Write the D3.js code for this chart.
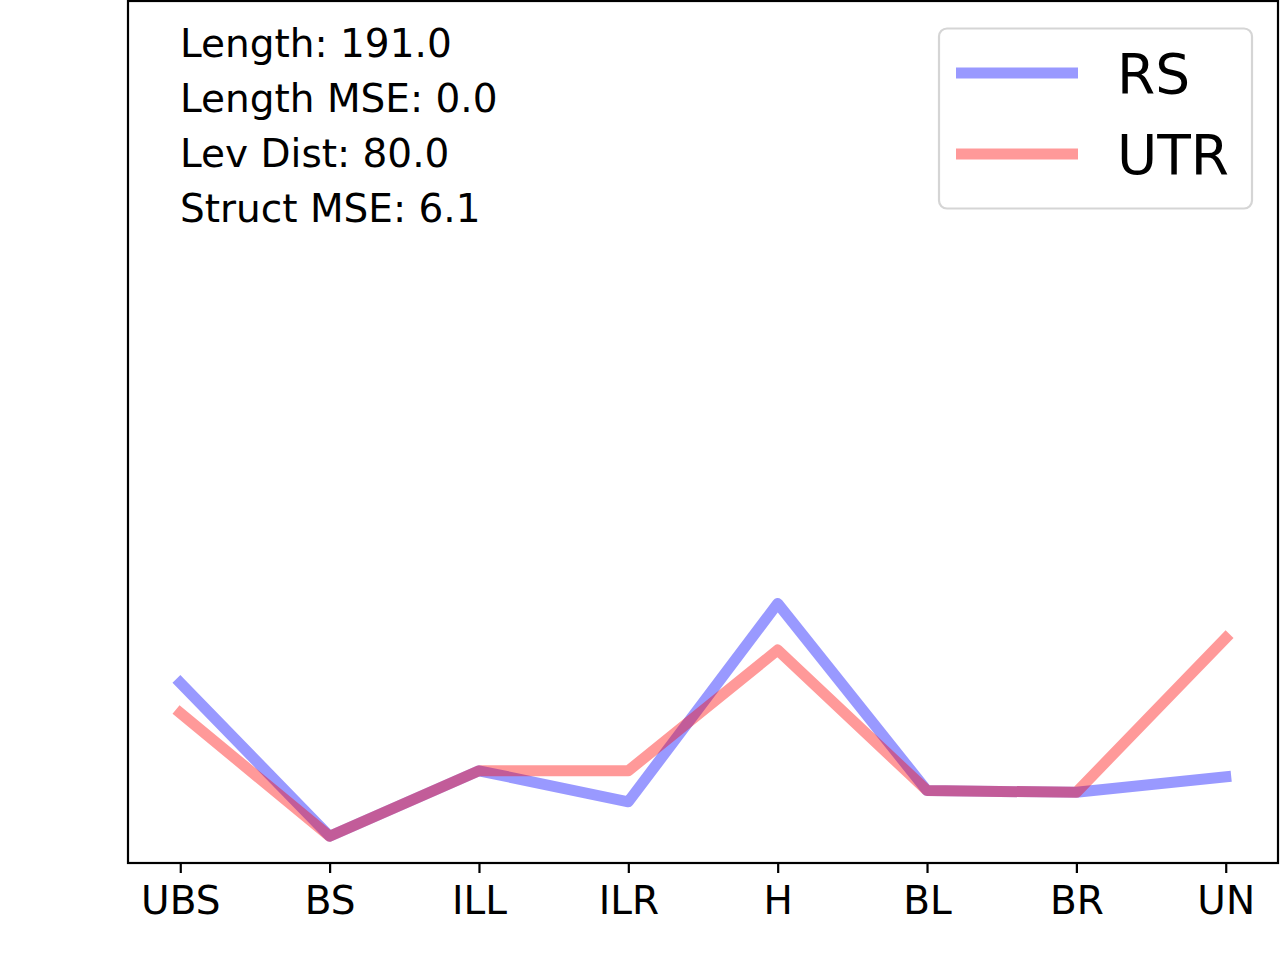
<!DOCTYPE html>
<html>
<head>
<meta charset="utf-8">
<script src="https://cdn.jsdelivr.net/npm/d3@7"></script>
<style>
  body { margin: 0; background: #fff; }
  svg { display: block; font-family: "DejaVu Sans", sans-serif; }
</style>
</head>
<body>
<div id="vis"></div>
<script>
let W = 1280;
let H = 960;

// Categories on the x axis
let categories = ['UBS', 'BS', 'ILL', 'ILR', 'H', 'BL', 'BR', 'UN'];

// Series values (arbitrary units)
let rsValues = [20.9, 3.1, 10.7, 7.1, 30.1, 8.4, 8.2, 10.0];
let utrValues = [17.4, 3.1, 10.7, 10.7, 24.7, 8.4, 8.2, 26.1];

// Stats text block
let statLines = ['Length: 191.0', 'Length MSE: 0.0', 'Lev Dist: 80.0', 'Struct MSE: 6.1'];

let seriesNames = ['RS', 'UTR'];
let seriesColors = ['blue', 'red'];
let seriesData = [rsValues, utrValues];

let plotLeft = 128, plotRight = 1278, plotTop = 1, plotBottom = 863;

let svg = d3.select('#vis').append('svg').attr('width', W).attr('height', H);

// Scales
let xScale = d3.scalePoint()
    .domain(categories)
    .range([plotLeft, plotRight])
    .padding(0.35);

let yScale = d3.scaleLinear()
    .domain([0, 100])
    .range([plotBottom, plotTop]);

// Lines, RS first so UTR sits on top
let line = d3.line()
    .x((d, i) => xScale(categories[i]))
    .y(d => yScale(d));

svg.selectAll('path.series').data(seriesData).enter().append('path')
    .attr('class', 'series')
    .attr('d', d => line(d))
    .attr('fill', 'none')
    .attr('stroke', (d, i) => seriesColors[i])
    .attr('stroke-opacity', 0.4)
    .attr('stroke-width', 11)
    .attr('stroke-linecap', 'square')
    .attr('stroke-linejoin', 'round');

// Frame
svg.append('rect')
    .attr('x', plotLeft).attr('y', plotTop)
    .attr('width', plotRight - plotLeft).attr('height', plotBottom - plotTop)
    .attr('fill', 'none')
    .attr('stroke', 'black')
    .attr('stroke-width', 2.2);

// X axis
let xAxis = svg.append('g')
    .attr('transform', `translate(0,${plotBottom})`)
    .call(d3.axisBottom(xScale).tickSize(10).tickPadding(13));
xAxis.select('.domain').remove();
xAxis.selectAll('.tick line').attr('stroke', 'black').attr('stroke-width', 2.2);
xAxis.selectAll('.tick text')
    .attr('fill', 'black')
    .style('font-size', '39px')
    .style('font-family', '"DejaVu Sans", sans-serif');

// Stats text
svg.selectAll('text.stat').data(statLines).enter().append('text')
    .attr('class', 'stat')
    .attr('x', 180)
    .attr('y', (d, i) => 57 + i * 55)
    .style('font-size', '39px')
    .attr('fill', 'black')
    .text(d => d);

// Legend
let legend = svg.append('g');
legend.append('rect')
    .attr('x', 939).attr('y', 28.5)
    .attr('width', 313).attr('height', 180)
    .attr('rx', 8).attr('ry', 8)
    .attr('fill', 'white')
    .attr('fill-opacity', 0.8)
    .attr('stroke', '#d5d5d5')
    .attr('stroke-width', 2.2);

let legendItems = legend.selectAll('g.item').data(seriesNames).enter().append('g')
    .attr('class', 'item')
    .attr('transform', (d, i) => `translate(0,${73 + i * 81})`);

legendItems.append('line')
    .attr('x1', 956).attr('x2', 1078)
    .attr('y1', 0).attr('y2', 0)
    .attr('stroke', (d, i) => seriesColors[i])
    .attr('stroke-opacity', 0.4)
    .attr('stroke-width', 11);

legendItems.append('text')
    .attr('x', 1117)
    .attr('y', 20)
    .style('font-size', '55px')
    .attr('fill', 'black')
    .text(d => d);
</script>
</body>
</html>
